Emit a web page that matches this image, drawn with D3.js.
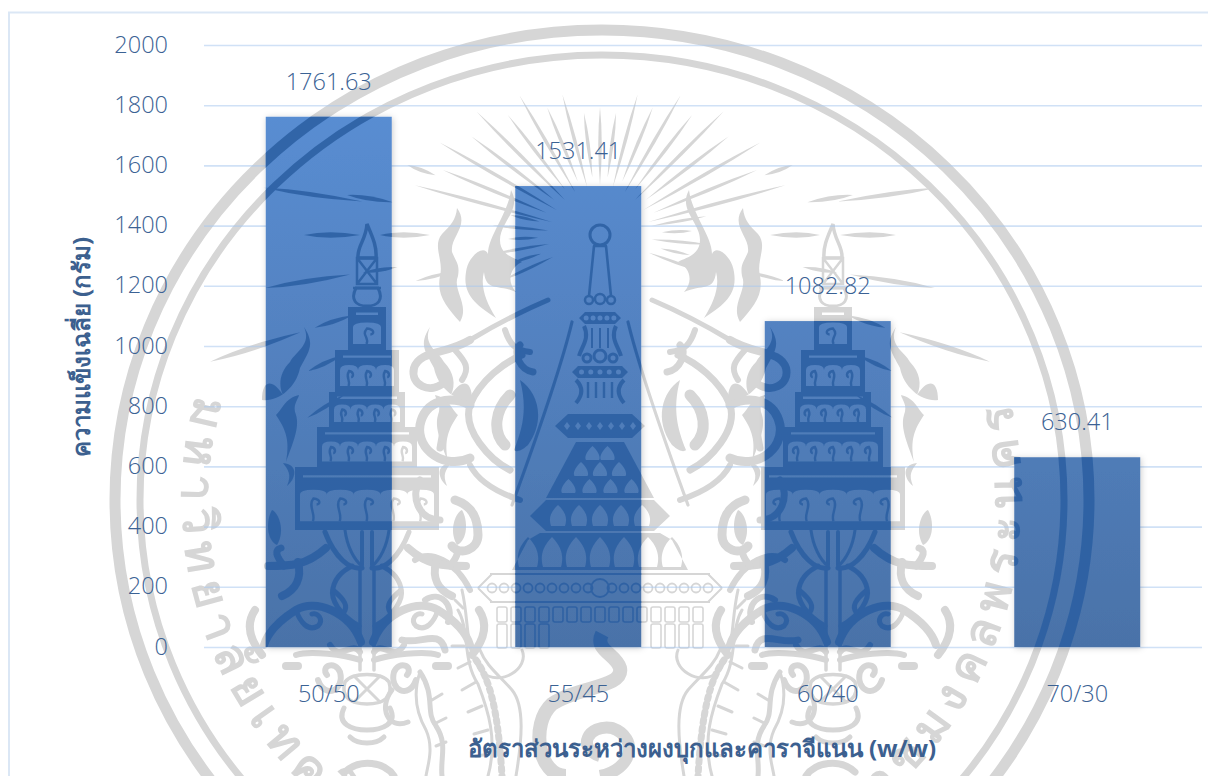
<!DOCTYPE html>
<html lang="th">
<head>
<meta charset="utf-8">
<title>ความแข็งเฉลี่ย</title>
<script src="https://cdn.jsdelivr.net/npm/d3@7"></script>
<style>
  html, body { margin: 0; padding: 0; background: #fff; }
  svg { display: block; }
  text { font-family: "Open Sans", "Noto Sans", sans-serif; font-weight: 300; }
  .tick text, .value { fill: #3b6294; font-size: 23.5px; }
  .title { fill: #3c608f; font-size: 24px; font-weight: 700; }
  .ring-text { font-family: "Noto Sans", "Open Sans", sans-serif; font-size: 47px; font-weight: 600; }
</style>
</head>
<body>
<svg id="chart" width="1208" height="776"></svg>
<script>
// Chart data
const ratios = ["50/50", "55/45", "60/40", "70/30"];
const hardness = [1761.63, 1531.41, 1082.82, 630.41];
const hardnessTicks = [0, 200, 400, 600, 800, 1000, 1200, 1400, 1600, 1800, 2000];
const xTitle = "อัตราส่วนระหว่างผงบุกและคาราจีแนน (w/w)";
const yTitle = "ความแข็งเฉลี่ย (กรัม)";

// Emblem text around the ring
const emblemLeft = "มหาวิทยาลัยเทคโนโลยี";
const emblemRight = "ราชมงคลพระนคร";

const svg = d3.select("#chart");
const defs = svg.append("defs");

const x = d3.scaleBand().domain(ratios).range([204, 1202]).paddingInner(0.495).paddingOuter(0.2475);
const y = d3.scaleLinear().domain([0, 2000]).range([647, 45]);

const grad = defs.append("linearGradient").attr("id", "barFill")
  .attr("gradientUnits", "userSpaceOnUse").attr("x1", 0).attr("x2", 0).attr("y1", y(2000) + 70).attr("y2", y(0));
grad.append("stop").attr("offset", 0).attr("stop-color", "#598dd2");
grad.append("stop").attr("offset", 1).attr("stop-color", "#4a72a8");

const shadow = defs.append("filter").attr("id", "barShadow")
  .attr("x", "-10%").attr("y", "-5%").attr("width", "120%").attr("height", "110%");
shadow.append("feDropShadow").attr("dx", 1).attr("dy", 1).attr("stdDeviation", 3)
  .attr("flood-color", "#000").attr("flood-opacity", 0.2);

const softEdge = defs.append("filter").attr("id", "soft");
softEdge.append("feGaussianBlur").attr("stdDeviation", 0.45);

// ---------- Emblem geometry ----------
const SEAL_X = 600, SUN_Y = 235;
const RING = { cx: 602, cy: 500, rx: 487, ry: 470 };

function polar(cx, cy, deg, r) {
  const a = deg * Math.PI / 180;
  return [cx + r * Math.cos(a), cy + r * Math.sin(a)];
}

// Tapered lens-shaped ray leaving the sun
function rayPath(deg, r0, r1, w) {
  const p0 = polar(SEAL_X, SUN_Y, deg, r0);
  const p1 = polar(SEAL_X, SUN_Y, deg, r1);
  const m = polar(SEAL_X, SUN_Y, deg, r0 + (r1 - r0) * 0.55);
  const n = [Math.cos((deg + 90) * Math.PI / 180) * w / 2, Math.sin((deg + 90) * Math.PI / 180) * w / 2];
  return `M${p0}Q${m[0] + n[0]},${m[1] + n[1]} ${p1}Q${m[0] - n[0]},${m[1] - n[1]} ${p0}Z`;
}

// Tier of a tower: solid block with a light stripe and a row of arched openings
function tierPath(cx, y0, y1, hw, n) {
  const stripeTop = y0 + (y1 - y0) * 0.13;
  const archTop = y0 + (y1 - y0) * 0.36;
  const archBot = y1 - Math.max(4, (y1 - y0) * 0.14);
  const m = 5, a = (2 * hw - 2 * m) / n;
  let d = `M${cx - hw},${y0}H${cx + hw}V${y1}H${cx - hw}Z`;
  d += `M${cx - hw + 8},${stripeTop}H${cx + hw - 8}V${stripeTop + 2.4}H${cx - hw + 8}Z`;
  d += `M${cx - hw + m},${archBot}`;
  for (let i = 0; i < n; i++) {
    const xa = cx - hw + m + a * i;
    d += `V${archTop + 5}Q${xa},${archTop} ${xa + a / 2},${archTop}Q${xa + a},${archTop} ${xa + a},${archTop + 5}`;
  }
  d += `V${archBot}Z`;
  return d;
}

// Small hooks inside the arches
function hookPaths(cx, y0, y1, hw, n) {
  const archTop = y0 + (y1 - y0) * 0.5;
  const archBot = y1 - Math.max(4, (y1 - y0) * 0.14);
  const a = (2 * hw - 10) / n;
  return d3.range(n).map(i => {
    const xa = cx - hw + 5 + a * i;
    return `M${xa + a * 0.48},${archBot}C${xa + a * 0.6},${archBot - 7} ${xa + a * 0.28},${archTop + 7} ${xa + a * 0.5},${archTop}`
      + `C${xa + a * 0.8},${archTop + 1} ${xa + a * 0.75},${archTop + 6} ${xa + a * 0.62},${archTop + 6}`;
  });
}

const towerTiers = [[307, 350, 19, 1], [350, 392, 32, 3], [392, 427, 38, 4], [427, 467, 50, 5], [467, 530, 72, 5]];

// Scrollwork around one tower, drawn once and reflected about the tower's axis
const towerScrolls = [
  ["M361,642C350,612 315,598 296,610C280,620 268,632 264,645", 8],
  ["M296,610C300,622 308,632 318,626C324,620 318,612 312,614", 5],
  ["M359,626C340,615 330,600 333,588C336,575 345,570 352,566", 5],
  ["M333,590C345,600 348,606 344,612", 5],
  ["M326,548C306,566 290,566 268,566", 8],
  ["M284,566C276,556 274,550 281,548", 7],
  ["M298,562C302,578 296,590 282,596", 8],
  ["M325,532C335,558 350,570 362,568", 5],
  ["M345,530C347,546 354,560 362,566", 3],
  ["M262,655C250,640 245,625 255,610", 8],
  ["M318,680C325,700 345,690 340,672C335,660 320,666 327,675", 6],
  ["M296,655C310,650 345,655 360,660", 6],
  ["M286,666H298", 8]
];
const towerBlobs = [
  ["M304,327C312,345 295,352 290,362C280,372 278,385 283,395C272,378 262,380 262,400C278,402 296,388 300,368C308,352 316,345 304,327Z"],
  ["M299,395C285,398 282,410 276,415C286,430 290,440 286,462C292,445 300,428 296,415C292,405 298,400 299,395Z"],
  ["M283,463C300,465 295,480 287,486C292,474 288,470 283,463Z"],
  ["M272,510C266,520 266,540 277,545C286,530 278,512 272,510Z"]
];

// Scrollwork between the towers and the central spire (left half, reflected for the right)
const sideScrolls = [
  ["M548,300C520,312 490,328 470,340", 5],
  ["M470,340C445,355 420,350 414,368C410,385 430,395 445,382", 8],
  ["M505,330C510,345 515,350 530,352", 6],
  ["M455,350C466,362 470,368 462,380", 6],
  ["M522,355C505,362 480,380 470,405C462,430 490,460 510,470", 7],
  ["M470,405C450,395 425,400 420,425C416,450 445,470 470,458", 9],
  ["M510,395C495,410 492,432 505,445", 11],
  ["M445,420L440,448", 7],
  ["M470,465C480,485 505,495 520,500", 6],
  ["M455,500C470,505 478,515 478,535C478,550 460,556 452,546", 9],
  ["M420,480C410,495 418,520 440,520", 7],
  ["M415,560C430,550 455,560 470,590", 6],
  ["M425,600C440,590 455,605 448,622", 6],
  ["M402,640C420,645 440,628 445,650", 7],
  ["M572,322C560,372 535,442 512,505", 3.2],
  ["M520,345C512,352 520,370 533,372", 7]
];
const sideFlames = [
  "M511,190C522,210 500,222 500,240C500,256 516,258 522,262C512,266 505,280 516,292C498,284 486,292 484,272C480,286 486,302 496,318C478,306 462,296 466,272C468,256 484,244 488,254C488,236 508,214 511,190Z",
  "M457,208C470,226 450,236 452,252C456,262 460,264 458,276C452,290 470,305 460,322C448,308 436,296 440,276C444,260 432,246 442,234C450,226 456,220 457,208Z",
  "M520,380C538,392 546,420 528,445C520,452 516,452 514,450C522,430 528,410 520,380Z"
];

// Chedi in the middle, top to bottom
function drawChedi(g) {
  const line = (d, w) => g.append("path").attr("d", d).attr("fill", "none").attr("stroke", "currentColor").attr("stroke-width", w);
  const block = d => g.append("path").attr("d", d).attr("fill", "currentColor").attr("fill-rule", "evenodd");
  const cx = SEAL_X;

  g.append("circle").attr("cx", cx).attr("cy", SUN_Y).attr("r", 10).attr("fill", "none").attr("stroke", "currentColor").attr("stroke-width", 3);
  line(`M${cx - 6},246L${cx - 11},296M${cx + 6},246L${cx + 11},296M${cx - 7},246H${cx + 7}`, 2.6);

  [[-11, 300, 5], [0, 299, 6], [11, 300, 5]].forEach(b =>
    g.append("circle").attr("cx", cx + b[0]).attr("cy", b[1]).attr("r", b[2] - 1).attr("fill", "none").attr("stroke", "currentColor").attr("stroke-width", 2.5));

  // Beaded collars
  [[318, 21, 5], [372, 28, 5]].forEach(c => {
    let d = `M${cx - c[1]},${c[0]}L${cx - c[1] + 6},${c[0] - 6}H${cx + c[1] - 6}L${cx + c[1]},${c[0]}L${cx + c[1] - 6},${c[0] + 6}H${cx - c[1] + 6}Z`;
    d3.range(c[2]).forEach(i => {
      const bx = cx - c[1] * 0.66 + i * c[1] * 0.33;
      d += `M${bx - 2.5},${c[0]}a2.5,2.5 0 1,0 5,0a2.5,2.5 0 1,0 -5,0Z`;
    });
    block(d);
  });
  line(`M${cx - 16},326C${cx - 10},338 ${cx - 18},346 ${cx - 21},356M${cx + 16},326C${cx + 10},338 ${cx + 18},346 ${cx + 21},356`, 4);
  line(`M${cx - 8},328V348M${cx},328V348M${cx + 8},328V348`, 2);
  [[-13, 358, 4], [0, 356, 6], [13, 358, 4]].forEach(b =>
    g.append("circle").attr("cx", cx + b[0]).attr("cy", b[1]).attr("r", b[2]).attr("fill", "none").attr("stroke", "currentColor").attr("stroke-width", 3));
  line(`M${cx - 24},380C${cx - 16},388 ${cx - 18},396 ${cx - 24},403M${cx + 24},380C${cx + 16},388 ${cx + 18},396 ${cx + 24},403`, 4);
  line(`M${cx - 12},382V398M${cx - 4},382V398M${cx + 4},382V398M${cx + 12},382V398`, 2.4);

  // Spiked band
  let band = `M${cx - 45},426L${cx - 32},414H${cx + 32}L${cx + 45},426L${cx + 32},438H${cx - 32}Z`;
  d3.range(-3, 4).forEach(i => { band += `M${cx + i * 11 - 3},426l3,-4l3,4l-3,4Z`; });
  block(band);

  // Petalled cone
  let cone = `M${cx - 24},442H${cx + 24}L${cx + 54},498H${cx - 54}Z`;
  [[454, 2, 15], [470, 3, 19], [487, 4, 21]].forEach(r => {
    d3.range(r[1]).forEach(i => {
      const px = cx + (i - (r[1] - 1) / 2) * r[2];
      cone += `M${px},${r[0] - 8}C${px + 8},${r[0] - 1} ${px + 8},${r[0] + 6} ${px + 6},${r[0] + 6}H${px - 6}C${px - 8},${r[0] + 6} ${px - 8},${r[0] - 1} ${px},${r[0] - 8}Z`;
    });
  });
  block(cone);

  // Diamond tier with arches
  let tier2 = `M${cx - 70},516L${cx - 54},500H${cx + 54}L${cx + 70},516L${cx + 54},531H${cx - 54}Z`;
  d3.range(-2, 3).forEach(i => {
    const px = cx + i * 21;
    tier2 += `M${px},505C${px + 9},513 ${px + 9},520 ${px + 7},526H${px - 7}C${px - 9},520 ${px - 9},513 ${px},505Z`;
  });
  block(tier2);

  // Lotus tier
  let lotus = `M${cx - 88},570L${cx - 72},540L${cx - 60},533H${cx + 60}L${cx + 72},540L${cx + 88},570Z`;
  d3.range(-3, 4).forEach(i => {
    const px = cx + i * 24;
    lotus += `M${px},537C${px + 12},549 ${px + 11},560 ${px + 9},567H${px - 9}C${px - 11},560 ${px - 12},549 ${px},537Z`;
  });
  block(lotus);

  // Jewelled band, finer toward its ends
  line(`M${cx - 110},574H${cx + 110}M${cx - 110},602H${cx + 110}M${cx - 122},588L${cx - 108},574M${cx - 122},588L${cx - 108},602M${cx + 122},588L${cx + 108},574M${cx + 122},588L${cx + 108},602`, 2);
  d3.range(-9, 10).forEach(i => {
    g.append("circle").attr("cx", cx + i * 12).attr("cy", 588).attr("r", i === 0 ? 9 : 4.5)
      .attr("fill", "none").attr("stroke", "currentColor").attr("stroke-width", 1.8);
  });

  // Teeth and legs beneath the band
  d3.range(-7, 8).forEach(i => {
    g.append("rect").attr("x", cx + i * 14 - 5).attr("y", 607).attr("width", 10).attr("height", 15).attr("rx", 2)
      .attr("fill", "none").attr("stroke", "currentColor").attr("stroke-width", 1.6);
    if (Math.abs(i) >= 4) {
      g.append("rect").attr("x", cx + i * 14 - 5).attr("y", 624).attr("width", 10).attr("height", 24).attr("rx", 2)
        .attr("fill", "none").attr("stroke", "currentColor").attr("stroke-width", 1.6);
    }
  });

  // Central numeral below the platform
  line("M602,634C594,650 616,654 620,668C624,688 578,686 552,704C530,724 538,776 566,776", 14);
  line("M600,776C632,770 640,738 612,728C588,724 576,748 600,756", 12);
}

// Naga, flame and lower scroll on one side
function drawLowerSide(g) {
  const line = (d, w, dash) => g.append("path").attr("d", d).attr("fill", "none").attr("stroke", "currentColor")
    .attr("stroke-width", w).attr("stroke-linecap", "round").attr("stroke-dasharray", dash || null);
  // Naga body and crest
  line("M462,590C470,625 464,650 482,672C500,688 530,668 522,650", 3);
  line("M458,610C470,630 462,660 478,684C488,710 498,740 488,776", 3);
  line("M480,650C486,666 500,676 512,690C525,706 522,740 516,776", 3);
  line("M476,660C490,680 498,710 502,776", 7, "3 5");
  line("M455,600l8,8M448,622l14,4M452,646l12,0M458,668l12,-6M462,690l14,-8M468,712l14,-6M474,734l14,-4M476,756l14,-2", 3);
  // Flame rising at the far side
  line("M420,672C436,696 425,712 436,726C448,744 440,758 442,776", 5);
  line("M420,672C412,696 418,716 426,730C434,748 428,764 426,776", 3);
  line("M432,700l10,-6M434,724l12,-6M436,746l10,-4", 3);
  // Scroll hooks near the lower corners
  line("M392,690C378,708 388,730 408,722", 5);
  line("M345,772C360,758 385,762 394,776", 7);
}

// Lower part of each tower: stem, urn and base
function drawTowerBase(g) {
  const line = (d, w) => g.append("path").attr("d", d).attr("fill", "none").attr("stroke", "currentColor").attr("stroke-width", w).attr("stroke-linecap", "round");
  line("M362,532V565M372,532V565", 4);
  line("M360,568V670M374,568V670", 3.5);
  line("M330,645C340,662 352,640 360,652M404,645C394,662 382,640 374,652", 6);
  line("M345,682C352,672 382,672 389,682C394,698 382,704 367,704C352,704 340,698 345,682Z", 3.5);
  line("M354,676L380,702M380,676L354,702", 3);
  line("M344,708C336,724 352,730 367,730C382,730 398,724 390,708", 5);
  line("M350,737C358,745 376,745 384,737", 5);
}

function buildSeal(root) {
  // Double ring
  root.append("ellipse").attr("cx", RING.cx).attr("cy", RING.cy).attr("rx", RING.rx).attr("ry", RING.ry).attr("fill", "none").attr("stroke", "currentColor").attr("stroke-width", 11);
  root.append("ellipse").attr("cx", RING.cx).attr("cy", RING.cy).attr("rx", RING.rx - 25).attr("ry", RING.ry - 25).attr("fill", "none").attr("stroke", "currentColor").attr("stroke-width", 7);

  // Sun rays: [angle, inner radius, outer radius, width]
  const sideRays = d3.range(-205, 26, 7.5).filter(a => a < -165 || a > -15).map((a, i) => [a, i % 2 ? 62 : 52, i % 2 ? 92 : 108, 6]);
  const topRays = d3.range(-165, -14, 7.5).map((a, i) => {
    const reach = 128 + 66 * Math.abs(Math.cos(a * Math.PI / 180));
    return [a, i % 2 ? 58 : 50, i % 2 ? reach * 0.9 : reach, 7];
  });
  const leftFar = [
    [180, 170, 220, 11], [180, 240, 296, 11], [-171, 210, 256, 9], [171, 253, 339, 10], [171, 205, 240, 8],
    [162, 260, 300, 9], [162, 315, 410, 11], [155, 285, 322, 9], [148, 300, 345, 8], [188, 240, 340, 9],
    [-160, 175, 205, 8], [166, 150, 190, 7]
  ];
  const farRays = leftFar.concat(leftFar.map(r => [180 - r[0], r[1], r[2], r[3]]));
  root.append("g").selectAll("path").data(sideRays.concat(topRays, farRays)).join("path")
    .attr("d", d => rayPath(d[0], d[1], d[2], d[3])).attr("fill", "currentColor");

  // Towers and their scrollwork, both sides
  [null, "translate(1200,0) scale(-1,1)"].forEach(tf => {
    const side = root.append("g").attr("transform", tf);
    sideScrolls.forEach(s => side.append("path").attr("d", s[0]).attr("fill", "none").attr("stroke", "currentColor")
      .attr("stroke-width", s[1]).attr("stroke-linecap", "round"));
    sideFlames.forEach(d => side.append("path").attr("d", d).attr("fill", "currentColor"));
    drawLowerSide(side);

    // Spire of the tower
    const tower = side.append("g");
    tower.append("path").attr("d", "M367,224C372,236 377,246 376,258H358C357,246 366,240 367,224Z").attr("fill", "none").attr("stroke", "currentColor").attr("stroke-width", 3.5);
    tower.append("path").attr("d", "M357,258H377V284H357ZM357,258L377,284M377,258L357,284M353,288H381").attr("fill", "none").attr("stroke", "currentColor").attr("stroke-width", 2.5);
    tower.append("path").attr("d", "M356,288C350,300 356,306 367,306C378,306 384,300 378,288Z").attr("fill", "none").attr("stroke", "currentColor").attr("stroke-width", 3);

    towerTiers.forEach(t => {
      tower.append("path").attr("d", tierPath(367, t[0], t[1], t[2], t[3])).attr("fill", "currentColor").attr("fill-rule", "evenodd");
      tower.selectAll(null).data(hookPaths(367, t[0], t[1], t[2], t[3])).join("path").attr("d", d => d)
        .attr("fill", "none").attr("stroke", "currentColor").attr("stroke-width", 2.4);
    });
    drawTowerBase(tower);

    [null, "translate(734,0) scale(-1,1)"].forEach(tt => {
      const orn = tower.append("g").attr("transform", tt);
      towerScrolls.forEach(s => orn.append("path").attr("d", s[0]).attr("fill", "none").attr("stroke", "currentColor")
        .attr("stroke-width", s[1]).attr("stroke-linecap", "round"));
      towerBlobs.forEach(s => orn.append("path").attr("d", s[0]).attr("fill", "currentColor"));
    });
  });

  drawChedi(root.append("g"));

  // Lettering that runs around the ring, feet toward the rim
  const p0 = [RING.cx + 420 * Math.cos(195 * Math.PI / 180), RING.cy + 404 * Math.sin(195 * Math.PI / 180)];
  const p1 = [RING.cx + 420 * Math.cos(-15 * Math.PI / 180), RING.cy + 404 * Math.sin(-15 * Math.PI / 180)];
  defs.append("path").attr("id", "ringPath").attr("d", `M${p0}A420,404 0 1,0 ${p1}`);
  const ring = root.append("text").attr("class", "ring-text").attr("fill", "currentColor");
  ring.append("textPath").attr("href", "#ringPath").attr("letter-spacing", 9).text(emblemLeft);
  const ringR = root.append("text").attr("class", "ring-text").attr("fill", "currentColor").attr("text-anchor", "end");
  ringR.append("textPath").attr("href", "#ringPath").attr("startOffset", "100%").attr("letter-spacing", 9).text(emblemRight);
}

const sealDef = defs.append("g").attr("id", "seal");
buildSeal(sealDef);

// ---------- Drawing order ----------
// Chart frame
svg.append("rect").attr("x", 9).attr("y", 12.5).attr("width", 1300).attr("height", 900)
  .attr("fill", "none").attr("stroke", "#dbe7f5").attr("stroke-width", 2);

// Emblem behind the plot
svg.append("use").attr("href", "#seal").style("color", "#d6d6d6").attr("filter", "url(#soft)");

// Horizontal grid
const grid = svg.append("g").attr("transform", "translate(204,0)")
  .call(d3.axisLeft(y).tickValues(hardnessTicks).tickSize(-998).tickFormat(""));
grid.select(".domain").remove();
grid.selectAll("line").attr("stroke", "#a9c8ee").attr("stroke-opacity", 0.55).attr("stroke-width", 1.6);

// Bars
svg.append("g").selectAll("rect").data(hardness).join("rect")
  .attr("x", (d, i) => x(ratios[i])).attr("width", x.bandwidth())
  .attr("y", d => y(d)).attr("height", d => y(0) - y(d))
  .attr("fill", "url(#barFill)").attr("filter", "url(#barShadow)");

// Emblem shows through the bars in a deeper blue
const barClip = defs.append("clipPath").attr("id", "barClip");
barClip.selectAll("rect").data(hardness).join("rect")
  .attr("x", (d, i) => x(ratios[i])).attr("width", x.bandwidth())
  .attr("y", d => y(d)).attr("height", d => y(0) - y(d));
svg.append("g").attr("clip-path", "url(#barClip)")
  .append("use").attr("href", "#seal").style("color", "#2b5fa2").attr("opacity", 0.85);

// Value labels
svg.append("g").selectAll("text").data(hardness).join("text").attr("class", "value")
  .attr("x", (d, i) => x(ratios[i]) + x.bandwidth() / 2).attr("y", d => y(d) - 27)
  .attr("text-anchor", "middle").text(d => d.toFixed(2));

// Axes
const yAxis = svg.append("g").attr("transform", "translate(168,0)")
  .call(d3.axisLeft(y).tickValues(hardnessTicks).tickSize(0).tickPadding(0).tickFormat(d3.format("d")));
yAxis.select(".domain").remove();
yAxis.selectAll("text").attr("dy", "0.3em");

const xAxis = svg.append("g").attr("transform", "translate(0,702)")
  .call(d3.axisBottom(x).tickSize(0).tickPadding(0));
xAxis.select(".domain").remove();
xAxis.selectAll("text").attr("dy", 0).attr("y", 0);

// Axis titles
svg.append("text").attr("class", "title").attr("x", 702).attr("y", 757).attr("text-anchor", "middle").text(xTitle);
svg.append("text").attr("class", "title").attr("transform", "translate(90,347) rotate(-90)").attr("text-anchor", "middle").text(yTitle);
</script>
</body>
</html>
